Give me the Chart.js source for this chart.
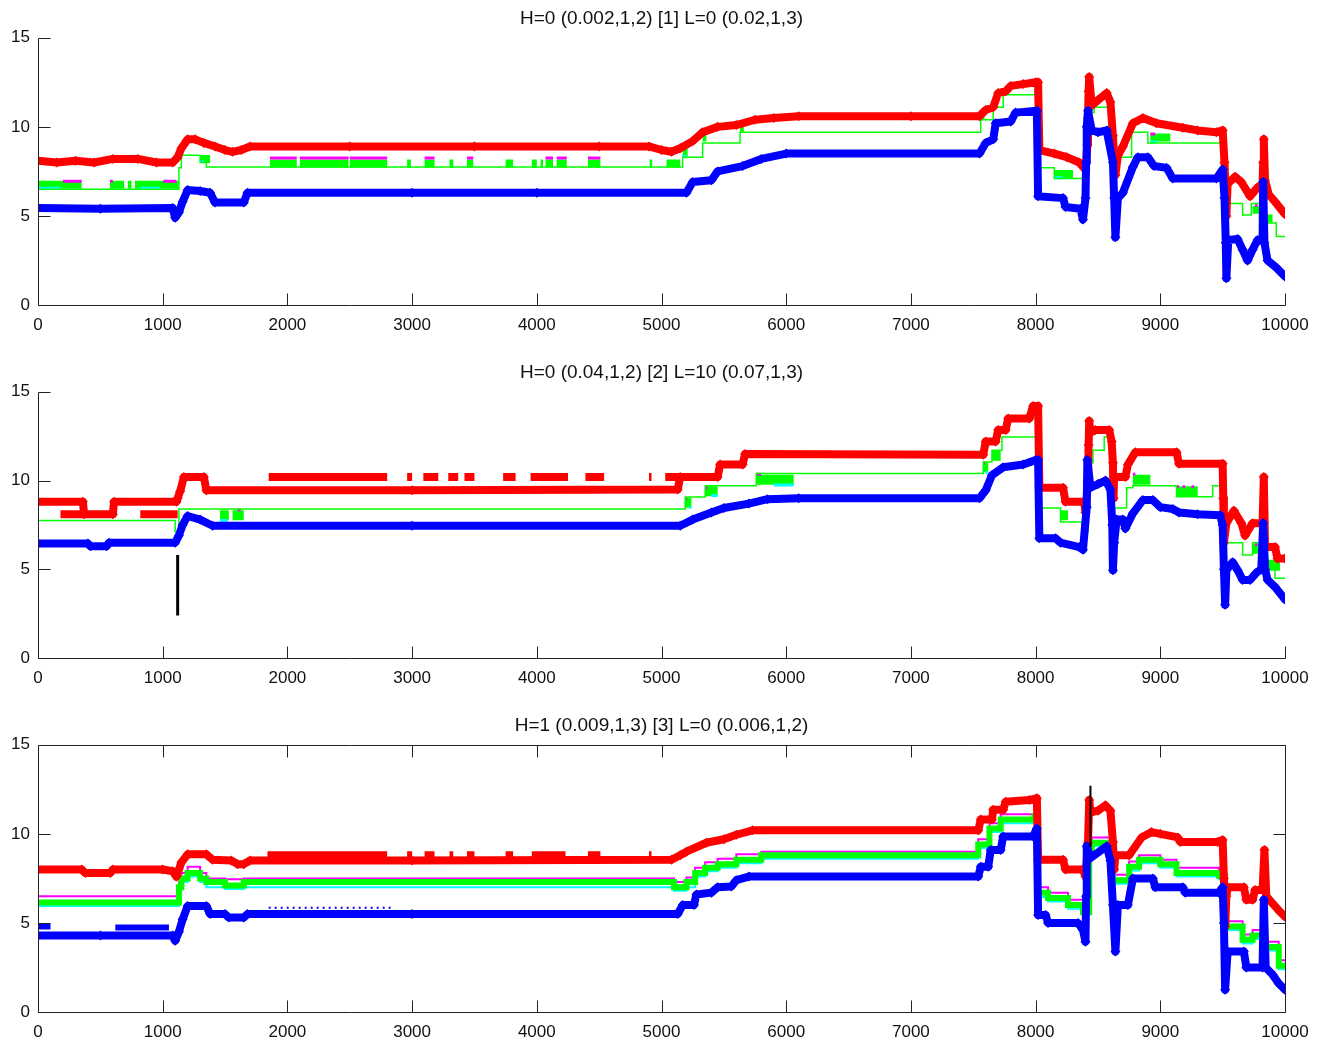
<!DOCTYPE html>
<html>
<head>
<meta charset="utf-8">
<title>H / L runs</title>
<script src="https://cdn.jsdelivr.net/npm/chart.js@4.4.0/dist/chart.umd.min.js"></script>
<style>
    html, body { margin: 0; padding: 0; background: #fff; overflow: hidden; }
    #figure { position: relative; width: 1325px; height: 1042px; }
    #figure canvas { position: absolute; left: 0; }
</style>
</head>
<body>
<div id="figure">
    <canvas id="chart1" width="1325" height="340" style="top:0px"></canvas>
    <canvas id="chart2" width="1325" height="340" style="top:354px"></canvas>
    <canvas id="chart3" width="1325" height="335" style="top:707px"></canvas>
</div>
<script>
// Axis ticks
const xTicks = [0, 1000, 2000, 3000, 4000, 5000, 6000, 7000, 8000, 9000, 10000];
const yTicks = [0, 5, 10, 15];

const titles = [
    'H=0 (0.002,1,2) [1] L=0 (0.02,1,3)',
    'H=0 (0.04,1,2) [2] L=10 (0.07,1,3)',
    'H=1 (0.009,1,3) [3] L=0 (0.006,1,2)'
];

// ---- Panel 1 ----
const p1RedX = [0, 150, 300, 450, 600, 800, 950, 1080, 1120, 1150, 1200, 1260, 1330, 1420, 1500, 1560, 1630, 1700, 2500, 3500, 4500, 4900, 5000, 5080, 5150, 5250, 5330, 5450, 5600, 5750, 5900, 6100, 7000, 7550, 7600, 7660, 7700, 7760, 7800, 7900, 8000, 8020, 8030, 8150, 8250, 8350, 8400, 8415, 8420, 8425, 8430, 8450, 8500, 8570, 8600, 8620, 8630, 8640, 8660, 8700, 8780, 8860, 8970, 9180, 9300, 9450, 9500, 9515, 9525, 9530, 9540, 9600, 9650, 9720, 9780, 9820, 9825, 9830, 9840, 9870, 9920, 10000];
const p1RedY = [8.1, 8.0, 8.1, 8.0, 8.2, 8.2, 8.0, 8.0, 8.3, 8.8, 9.3, 9.3, 9.1, 8.9, 8.7, 8.6, 8.7, 8.9, 8.9, 8.9, 8.9, 8.9, 8.7, 8.6, 8.8, 9.2, 9.7, 10.0, 10.1, 10.4, 10.5, 10.6, 10.6, 10.6, 10.95, 11.1, 11.9, 12.0, 12.3, 12.4, 12.5, 12.5, 8.7, 8.5, 8.3, 8.0, 7.6, 9.0, 10.5, 12.0, 12.8, 11.2, 11.5, 11.9, 11.4, 9.5, 8.3, 7.3, 8.4, 8.9, 10.2, 10.5, 10.2, 9.95, 9.8, 9.7, 9.8, 8.0, 6.0, 5.0, 6.8, 7.2, 6.9, 6.1, 6.6, 6.8, 8.0, 9.3, 7.0, 6.2, 5.8, 5.1];

const p1BlueX = [0, 500, 1080, 1100, 1130, 1160, 1200, 1300, 1380, 1420, 1650, 1680, 3000, 4000, 5200, 5250, 5400, 5450, 5650, 5800, 6000, 7550, 7600, 7660, 7680, 7800, 7840, 8010, 8020, 8220, 8240, 8360, 8380, 8400, 8405, 8410, 8420, 8450, 8500, 8570, 8620, 8630, 8640, 8660, 8700, 8780, 8820, 8900, 8950, 9050, 9100, 9450, 9500, 9515, 9525, 9530, 9545, 9620, 9660, 9700, 9740, 9780, 9820, 9825, 9835, 9860, 9930, 10000];
const p1BlueY = [5.45, 5.4, 5.45, 4.9, 5.2, 5.8, 6.45, 6.4, 6.3, 5.75, 5.75, 6.3, 6.3, 6.3, 6.3, 6.9, 7.0, 7.5, 7.8, 8.2, 8.5, 8.5, 9.1, 9.3, 10.2, 10.3, 10.8, 10.9, 6.1, 6.0, 5.5, 5.4, 4.8, 6.0, 8.0, 10.0, 10.9, 9.8, 9.7, 9.8, 8.0, 6.0, 3.8, 6.0, 6.3, 7.75, 8.3, 8.3, 7.8, 7.7, 7.1, 7.1, 7.6, 6.0, 3.5, 1.5, 3.65, 3.7, 3.1, 2.5, 3.1, 3.65, 3.6, 6.9, 3.5, 2.5, 2.1, 1.6];

const p1GreenX = [0, 1130, 1150, 1300, 1350, 5170, 5330, 5630, 7560, 7660, 7740, 8020, 8150, 8380, 8420, 8470, 8620, 8770, 8900, 9520, 9660, 9730, 9800, 9930, 10000];
const p1GreenY = [6.5, 7.7, 8.4, 8.0, 7.75, 8.3, 9.1, 9.7, 10.4, 11.1, 11.8, 7.7, 7.1, 6.6, 10.8, 11.1, 8.3, 9.7, 9.1, 5.7, 5.05, 5.7, 4.6, 3.85, 3.85];

const p1BandStart = [0, 577, 720, 778, 1300, 1860, 2100, 2500, 2960, 3100, 3300, 3440, 3750, 3960, 4030, 4070, 4160, 4410, 4905, 5040, 5170, 5330, 5630, 7560, 7660, 7990, 8150, 8380, 8920, 9740, 9850];
const p1BandEnd = [350, 690, 750, 1125, 1380, 2075, 2490, 2800, 2990, 3180, 3330, 3490, 3810, 4000, 4050, 4130, 4240, 4510, 4925, 5150, 5210, 5360, 5660, 7590, 7700, 8015, 8300, 8405, 9080, 9825, 9900];
const p1BandLevel = [6.75, 6.75, 6.75, 6.75, 8.2, 7.95, 7.95, 7.95, 7.95, 7.95, 7.95, 7.95, 7.95, 7.95, 7.95, 7.95, 7.95, 7.95, 7.95, 7.95, 8.55, 9.4, 9.95, 10.65, 11.35, 12.05, 7.35, 6.85, 9.4, 5.35, 4.85];

const p1MagStart = [200, 577, 1005, 1860, 2100, 2500, 3100, 3440, 4070, 4160, 4410, 5170, 5330, 5630, 7560, 8920, 9760];
const p1MagEnd = [350, 600, 1110, 2075, 2490, 2800, 3180, 3490, 4130, 4240, 4510, 5190, 5350, 5645, 7575, 8960, 9780];
const p1MagLevel = [6.95, 6.95, 6.95, 8.25, 8.25, 8.25, 8.25, 8.25, 8.25, 8.25, 8.25, 8.75, 9.6, 10.15, 10.8, 9.6, 5.6];

const p1CyanStart = [0, 818, 1300, 5170, 7560, 8150, 8380, 8920];
const p1CyanEnd = [180, 980, 1330, 5200, 7580, 8220, 8405, 8970];
const p1CyanLevel = [6.55, 6.55, 8.05, 8.35, 10.45, 7.15, 6.65, 9.15];

// ---- Panel 2 ----
const p2RedX = [0, 360, 370, 600, 610, 1110, 1120, 1140, 1170, 1330, 1350, 3000, 5130, 5150, 5450, 5470, 5650, 5670, 7580, 7600, 7680, 7700, 7760, 7780, 7950, 7980, 8020, 8030, 8220, 8240, 8390, 8400, 8420, 8425, 8430, 8440, 8480, 8590, 8610, 8620, 8625, 8630, 8720, 8740, 8800, 9130, 9150, 9500, 9505, 9510, 9530, 9590, 9650, 9680, 9740, 9820, 9830, 9840, 9920, 9940, 10000];
const p2RedY = [8.8, 8.8, 8.1, 8.1, 8.8, 8.8, 9.0, 9.4, 10.2, 10.2, 9.45, 9.45, 9.5, 10.2, 10.2, 10.9, 10.9, 11.5, 11.45, 12.2, 12.2, 12.85, 12.85, 13.5, 13.5, 14.2, 14.2, 9.6, 9.6, 8.8, 8.8, 8.2, 10.0, 12.0, 13.35, 12.7, 12.85, 12.85, 12.2, 11.0, 9.0, 10.2, 10.2, 10.9, 11.6, 11.6, 10.95, 10.95, 9.0, 6.5, 7.6, 8.3, 7.6, 6.9, 7.6, 7.6, 10.2, 6.25, 6.25, 5.6, 5.6];

const p2RedExtraStart = [180, 820, 1850, 2960, 3090, 3290, 3420, 3730, 3950, 4390, 4900, 5030];
const p2RedExtraEnd = [360, 1120, 2800, 3000, 3210, 3370, 3500, 3830, 4250, 4540, 4920, 5150];
const p2RedExtraLevel = [8.1, 8.1, 10.2, 10.2, 10.2, 10.2, 10.2, 10.2, 10.2, 10.2, 10.2, 10.2];

const p2BlueX = [0, 400, 420, 550, 570, 1100, 1130, 1160, 1200, 1300, 1400, 3000, 5150, 5250, 5400, 5500, 5700, 5850, 6100, 7550, 7600, 7650, 7740, 7900, 8000, 8020, 8030, 8160, 8200, 8350, 8380, 8410, 8415, 8440, 8500, 8560, 8600, 8615, 8620, 8630, 8650, 8700, 8720, 8780, 8860, 8940, 9000, 9100, 9150, 9300, 9480, 9500, 9510, 9520, 9530, 9580, 9620, 9660, 9720, 9770, 9810, 9825, 9840, 9860, 9920, 10000];
const p2BlueY = [6.45, 6.45, 6.3, 6.3, 6.5, 6.5, 6.9, 7.5, 8.0, 7.8, 7.45, 7.45, 7.45, 7.8, 8.2, 8.45, 8.7, 8.95, 9.0, 9.0, 9.45, 10.3, 10.75, 10.9, 11.15, 11.15, 6.75, 6.75, 6.5, 6.25, 6.1, 8.5, 11.15, 9.6, 9.8, 10.0, 9.5, 7.5, 4.95, 6.5, 7.8, 7.8, 7.3, 8.15, 8.9, 8.9, 8.5, 8.4, 8.2, 8.1, 8.05, 7.5, 5.0, 3.0, 4.95, 5.4, 4.95, 4.4, 4.4, 4.8, 5.0, 7.6, 5.0, 4.4, 4.0, 3.3];

const p2GreenX = [0, 1100, 1130, 5190, 5350, 5760, 7580, 7650, 7730, 8020, 8200, 8370, 8420, 8460, 8550, 8610, 8730, 8780, 9130, 9420, 9505, 9660, 9740, 9820, 9920, 10000];
const p2GreenY = [7.75, 7.1, 8.4, 9.07, 9.7, 10.4, 11.05, 11.7, 12.45, 8.45, 7.66, 7.1, 11.0, 11.7, 12.45, 8.45, 9.6, 9.7, 9.08, 9.7, 6.5, 5.8, 6.5, 5.5, 4.5, 4.5];

const p2BandStart = [1460, 1560, 5190, 5350, 5760, 7580, 7650, 8200, 8780, 9130, 9480, 9740, 9860];
const p2BandEnd = [1530, 1650, 5240, 5450, 6060, 7620, 7720, 8260, 8920, 9300, 9510, 9820, 9960];
const p2BandLevel = [8.05, 8.05, 8.75, 9.4, 10.05, 10.75, 11.4, 8.05, 10.05, 9.4, 9.4, 6.15, 5.2];

const p2MagStart = [1600, 5190, 5350, 5760, 7580, 8780, 9130, 9180, 9250, 9760];
const p2MagEnd = [1625, 5205, 5370, 5800, 7595, 8800, 9150, 9200, 9270, 9780];
const p2MagLevel = [8.35, 9.0, 9.6, 10.35, 11.0, 10.35, 9.65, 9.65, 9.65, 6.4];

const p2CyanStart = [1460, 5220, 5400, 5900, 7600, 8380, 9480];
const p2CyanEnd = [1520, 5240, 5450, 6060, 7620, 8400, 9500];
const p2CyanLevel = [7.75, 8.5, 9.15, 9.75, 10.45, 7.2, 9.15];

const p2MarkX = [1120, 1120];
const p2MarkY = [2.4, 5.8];

// ---- Panel 3 ----
const p3RedX = [0, 350, 380, 580, 600, 1000, 1080, 1110, 1150, 1200, 1350, 1400, 1550, 1600, 1650, 1700, 3000, 5080, 5150, 5200, 5360, 5500, 5600, 5730, 7540, 7560, 7650, 7660, 7740, 7760, 7950, 8010, 8020, 8220, 8240, 8380, 8400, 8420, 8430, 8440, 8500, 8560, 8600, 8620, 8630, 8640, 8750, 8850, 8930, 9000, 9140, 9160, 9460, 9500, 9510, 9520, 9530, 9540, 9670, 9690, 9740, 9760, 9820, 9835, 9850, 9900, 9950, 10000];
const p3RedY = [8.0, 8.0, 7.8, 7.8, 8.0, 8.0, 7.9, 7.6, 8.4, 8.85, 8.85, 8.55, 8.5, 8.3, 8.3, 8.5, 8.5, 8.55, 8.8, 9.0, 9.5, 9.7, 9.95, 10.2, 10.2, 10.8, 10.8, 11.35, 11.35, 11.8, 11.9, 12.0, 8.55, 8.55, 8.0, 8.0, 7.6, 9.5, 11.9, 11.2, 11.3, 11.6, 11.3, 9.55, 8.0, 8.8, 8.8, 9.8, 10.1, 10.0, 9.8, 9.55, 9.55, 9.65, 7.5, 4.8, 6.5, 7.0, 7.0, 6.3, 6.3, 6.85, 6.85, 9.1, 6.5, 6.1, 5.7, 5.35];

const p3RedExtraStart = [1840, 2960, 3100, 3300, 3440, 3750, 3960, 4410, 4900];
const p3RedExtraEnd = [2800, 3000, 3180, 3330, 3500, 3810, 4230, 4510, 4920];
const p3RedExtraLevel = [8.8, 8.8, 8.8, 8.8, 8.8, 8.8, 8.8, 8.8, 8.8];

const p3BlueX = [0, 500, 1080, 1100, 1130, 1160, 1200, 1350, 1380, 1500, 1530, 1650, 1680, 3000, 5130, 5170, 5260, 5280, 5400, 5450, 5560, 5600, 5700, 7540, 7560, 7620, 7640, 7720, 7740, 7980, 8010, 8020, 8080, 8100, 8340, 8380, 8400, 8405, 8410, 8440, 8570, 8600, 8620, 8640, 8660, 8740, 8780, 8940, 8960, 9180, 9200, 9470, 9500, 9510, 9520, 9540, 9670, 9690, 9820, 9830, 9845, 9900, 9950, 10000];
const p3BlueY = [4.3, 4.3, 4.3, 4.0, 4.5, 5.2, 5.95, 5.95, 5.5, 5.5, 5.3, 5.3, 5.5, 5.5, 5.5, 6.0, 6.0, 6.6, 6.7, 7.0, 7.05, 7.4, 7.6, 7.6, 8.15, 8.15, 9.1, 9.1, 9.85, 9.85, 10.3, 5.45, 5.45, 5.0, 5.0, 4.6, 3.95, 6.5, 9.3, 8.65, 9.3, 8.5, 6.0, 3.4, 6.0, 6.0, 7.5, 7.5, 7.0, 7.0, 6.7, 6.7, 7.0, 5.0, 1.25, 3.4, 3.4, 2.5, 2.5, 6.3, 2.5, 2.1, 1.6, 1.25];

const p3BlueExtraStart = [0, 620];
const p3BlueExtraEnd = [100, 1050];
const p3BlueExtraLevel = [4.8, 4.75];

const p3BlueDotStart = [1850];
const p3BlueDotEnd = [2850];
const p3BlueDotLevel = [5.85];

const p3GreenX = [0, 1130, 1150, 1200, 1300, 1350, 1500, 1650, 5100, 5200, 5270, 5350, 5450, 5600, 5800, 7540, 7630, 7720, 7990, 8020, 8100, 8260, 8380, 8430, 8450, 8620, 8750, 8830, 9000, 9130, 9470, 9520, 9660, 9740, 9840, 9950, 10000];
const p3GreenY = [6.15, 7.0, 7.5, 7.8, 7.5, 7.3, 7.1, 7.3, 7.0, 7.3, 7.8, 8.1, 8.3, 8.55, 8.8, 9.4, 10.3, 10.8, 11.0, 6.7, 6.4, 6.0, 5.6, 9.2, 9.5, 7.4, 8.15, 8.55, 8.3, 7.8, 7.65, 4.8, 4.05, 4.3, 3.65, 2.6, 2.6];
const p3MagY = [6.5, 7.3, 7.8, 8.15, 7.8, 7.5, 7.45, 7.5, 7.3, 7.55, 8.1, 8.4, 8.6, 8.85, 9.0, 9.7, 10.6, 11.1, 11.3, 7.0, 6.7, 6.3, 5.9, 9.5, 9.8, 7.7, 8.45, 8.8, 8.55, 8.1, 7.95, 5.1, 4.35, 4.6, 3.95, 2.9, 2.9];
const p3CyanY = [5.95, 6.8, 7.3, 7.6, 7.3, 7.0, 6.9, 7.0, 6.8, 7.0, 7.6, 7.9, 8.1, 8.35, 8.6, 9.2, 10.1, 10.6, 10.8, 6.45, 6.2, 5.8, 5.4, 9.0, 9.3, 7.2, 7.95, 8.35, 8.1, 7.6, 7.45, 4.6, 3.85, 4.1, 3.45, 2.4, 2.4];

const p3MarkX = [8440, 8440];
const p3MarkY = [9.3, 12.7];

// Colours
const RED = '#ff0000';
const BLUE = '#0000ff';
const GREEN = '#00ff00';
const MAGENTA = '#ff00ff';
const CYAN = '#00ffff';
const FONT = "'Liberation Sans', Arial, sans-serif";

function points(xs, ys) {
    return xs.map((x, i) => ({ x: x, y: ys[i] }));
}

// flat pieces separated by gaps
function pieces(starts, ends, levels) {
    const out = [];
    starts.forEach((s, i) => {
        out.push({ x: s, y: levels[i] }, { x: ends[i], y: levels[i] }, { x: ends[i], y: null });
    });
    return out;
}

function markerLine(data, color, order) {
    return {
        data: data,
        borderColor: color,
        backgroundColor: color,
        borderWidth: 8,
        borderJoinStyle: 'round',
        borderCapStyle: 'round',
        pointStyle: 'rectRot',
        pointRadius: 5,
        pointBorderWidth: 0,
        pointBackgroundColor: color,
        tension: 0,
        order: order
    };
}

function stripe(data, color, width, order, dash) {
    return {
        data: data,
        borderColor: color,
        borderWidth: width,
        borderCapStyle: 'butt',
        borderDash: dash || [],
        pointRadius: 0,
        spanGaps: false,
        order: order
    };
}

function stepLine(data, color, width, order) {
    return {
        data: data,
        borderColor: color,
        borderWidth: width,
        stepped: 'before',
        pointRadius: 0,
        order: order
    };
}

// inward tick marks and axis lines
const frame = {
    id: 'frame',
    afterDatasetsDraw(chart, args, opts) {
        const { ctx, chartArea: a } = chart;
        const xs = chart.scales.x, ys = chart.scales.y;
        const L = Math.round(a.left) + 0.5, R = Math.round(a.right) + 0.5;
        const T = Math.round(a.top) + 0.5, B = Math.round(a.bottom) + 0.5;
        ctx.save();
        ctx.strokeStyle = '#222';
        ctx.lineWidth = 1;
        ctx.beginPath();
        ctx.moveTo(L, T);
        ctx.lineTo(L, B);
        ctx.lineTo(R, B);
        if (opts.boxed) {
            ctx.lineTo(R, T);
            ctx.lineTo(L, T);
        }
        xTicks.forEach(v => {
            const p = Math.round(xs.getPixelForValue(v)) + 0.5;
            ctx.moveTo(p, B);
            ctx.lineTo(p, B - 12);
            if (opts.boxed) {
                ctx.moveTo(p, T);
                ctx.lineTo(p, T + 12);
            }
        });
        yTicks.forEach(v => {
            const p = Math.round(ys.getPixelForValue(v)) + 0.5;
            ctx.moveTo(L, p);
            ctx.lineTo(L + 12, p);
            if (opts.boxed) {
                ctx.moveTo(R, p);
                ctx.lineTo(R - 12, p);
            }
        });
        ctx.stroke();
        ctx.restore();
    }
};

function buildPanel(id, title, datasets, boxed, xAxisHeight) {
    const tickFont = { family: FONT, size: 17 };
    new Chart(document.getElementById(id), {
        type: 'line',
        data: { datasets: datasets },
        options: {
            responsive: false,
            animation: false,
            events: [],
            layout: { padding: { left: 0, right: 40, top: 0, bottom: 0 } },
            plugins: {
                legend: { display: false },
                tooltip: { enabled: false },
                title: {
                    display: true,
                    fullSize: false,   // centre over the plot area
                    text: title,
                    color: '#111',
                    font: { family: FONT, size: 19, weight: 'normal', lineHeight: 1.2 },
                    padding: { top: 7, bottom: 8 }
                },
                frame: { boxed: boxed }
            },
            scales: {
                x: {
                    type: 'linear',
                    min: 0,
                    max: 10000,
                    afterBuildTicks: s => { s.ticks = xTicks.map(v => ({ value: v })); },
                    afterFit: s => { s.height = xAxisHeight; },
                    grid: { display: false, drawTicks: false },
                    border: { display: false },
                    ticks: {
                        autoSkip: false,
                        maxRotation: 0,
                        padding: 10,
                        color: '#111',
                        font: tickFont,
                        callback: v => String(v)
                    }
                },
                y: {
                    min: 0,
                    max: 15,
                    afterBuildTicks: s => { s.ticks = yTicks.map(v => ({ value: v })); },
                    afterFit: s => { s.width = 38; },
                    grid: { display: false, drawTicks: false },
                    border: { display: false },
                    ticks: {
                        padding: 8,
                        color: '#111',
                        font: tickFont,
                        callback: v => String(v)
                    }
                }
            }
        },
        plugins: [frame]
    });
}

document.addEventListener('DOMContentLoaded', function() {
    buildPanel('chart1', titles[0], [
        stripe(pieces(p1BandStart, p1BandEnd, p1BandLevel), GREEN, 8, 6),
        stripe(pieces(p1MagStart, p1MagEnd, p1MagLevel), MAGENTA, 3, 5),
        stripe(pieces(p1CyanStart, p1CyanEnd, p1CyanLevel), CYAN, 3, 5),
        stepLine(points(p1GreenX, p1GreenY), GREEN, 1.5, 4),
        markerLine(points(p1RedX, p1RedY), RED, 2),
        markerLine(points(p1BlueX, p1BlueY), BLUE, 1)
    ], false, 35);

    buildPanel('chart2', titles[1], [
        stripe(pieces(p2BandStart, p2BandEnd, p2BandLevel), GREEN, 10, 6),
        stripe(pieces(p2MagStart, p2MagEnd, p2MagLevel), MAGENTA, 3, 5),
        stripe(pieces(p2CyanStart, p2CyanEnd, p2CyanLevel), CYAN, 3, 5),
        stepLine(points(p2GreenX, p2GreenY), GREEN, 1.5, 4),
        stripe(pieces(p2RedExtraStart, p2RedExtraEnd, p2RedExtraLevel), RED, 8, 3),
        markerLine(points(p2RedX, p2RedY), RED, 2),
        markerLine(points(p2BlueX, p2BlueY), BLUE, 1),
        stripe(points(p2MarkX, p2MarkY), '#000', 3, 0)
    ], false, 36);

    buildPanel('chart3', titles[2], [
        stepLine(points(p3GreenX, p3MagY), MAGENTA, 2, 6),
        stepLine(points(p3GreenX, p3CyanY), CYAN, 2, 6),
        stepLine(points(p3GreenX, p3GreenY), GREEN, 6, 5),
        stripe(pieces(p3RedExtraStart, p3RedExtraEnd, p3RedExtraLevel), RED, 8, 3),
        markerLine(points(p3RedX, p3RedY), RED, 2),
        stripe(pieces(p3BlueExtraStart, p3BlueExtraEnd, p3BlueExtraLevel), BLUE, 6, 1),
        stripe(pieces(p3BlueDotStart, p3BlueDotEnd, p3BlueDotLevel), BLUE, 2, 1, [2, 4]),
        markerLine(points(p3BlueX, p3BlueY), BLUE, 1),
        stripe(points(p3MarkX, p3MarkY), '#000', 2, 0)
    ], true, 30);
});
</script>
</body>
</html>
